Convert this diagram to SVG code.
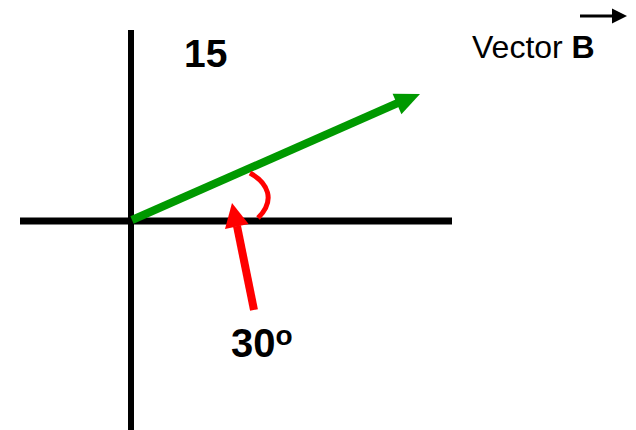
<svg xmlns="http://www.w3.org/2000/svg" width="636" height="430" viewBox="0 0 636 430">
<style>
.axis{stroke:#000;stroke-width:7;fill:none}
.lbl{font-family:"Liberation Sans",Arial,sans-serif;fill:#000}
.b{font-weight:bold}
</style>
<rect width="636" height="430" fill="#fff"/>
<g id="axes">
<line class="axis" x1="131" y1="30" x2="131" y2="430" style="stroke-width:6"/>
<line class="axis" x1="20" y1="221" x2="452" y2="221"/>
</g>
<g id="connectors">
<g id="vectorB">
<line x1="132" y1="220" x2="400" y2="102" stroke="#009900" stroke-width="8"/>
<polygon points="420,94 392.6,93.8 401.4,114.2" fill="#009900"/>
</g>
<path id="angleArc" d="M250,173 C268,183 276,200 258,218" fill="none" stroke="#ff0000" stroke-width="5"/>
<g id="pointer">
<line x1="254" y1="310" x2="237" y2="226" stroke="#ff0000" stroke-width="8"/>
<polygon points="232,203 248.6,224.1 225,228.9" fill="#ff0000"/>
</g>
<g id="titleArrow">
<line x1="580" y1="16" x2="614" y2="16" stroke="#000" stroke-width="3"/>
<polygon points="627,16 612,8.5 612,23.5" fill="#000"/>
</g>
</g>
<g id="label15"><text class="lbl b" x="184" y="67" font-size="39">15</text></g>
<g id="label30"><text class="lbl b" x="231" y="357" font-size="40">30<tspan font-size="28" dy="-12">o</tspan></text></g>
<g id="title"><text class="lbl" x="472" y="58" font-size="32">Vector <tspan class="b">B</tspan></text></g>
</svg>
